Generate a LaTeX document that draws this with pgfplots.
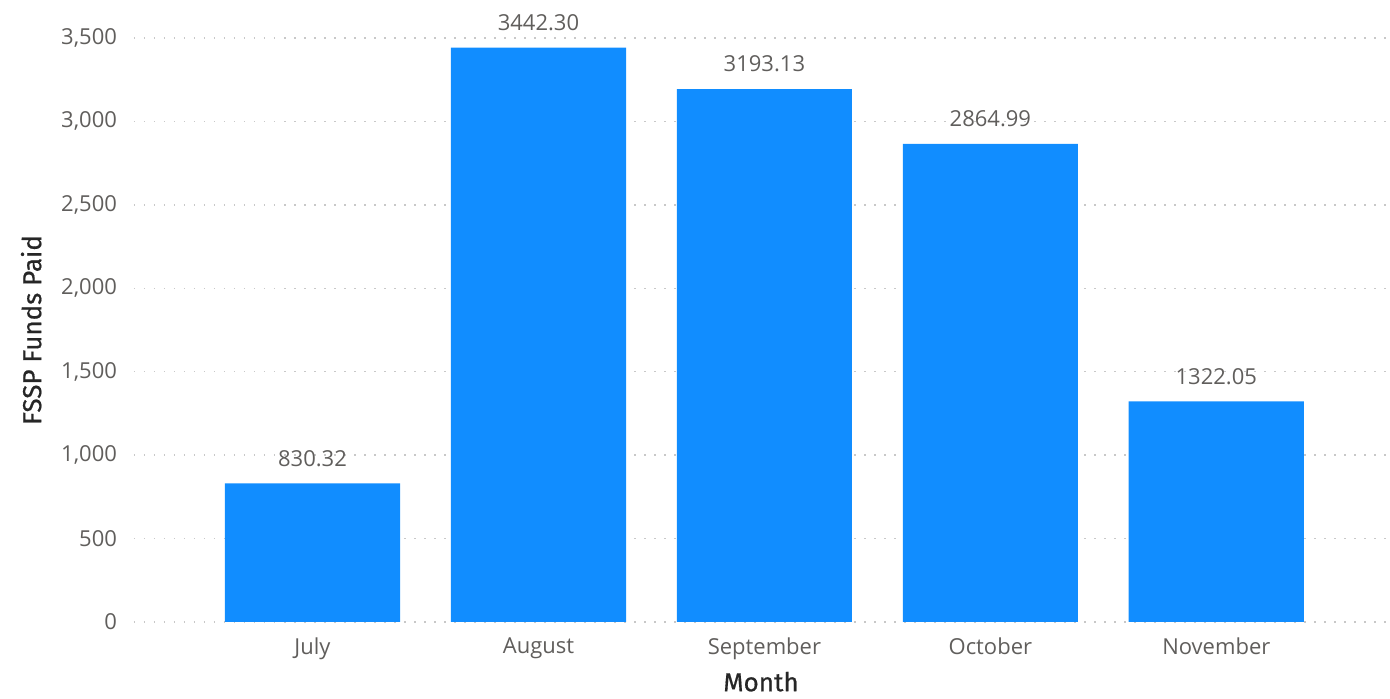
\documentclass[border=0pt]{standalone}
\usepackage{pgfplots}
\pgfplotsset{compat=1.18}
\usepackage{fontspec}
\setmainfont{Open Sans}
\newfontfamily\titlefont[FakeBold=0.6]{Fira Sans}
\definecolor{barblue}{HTML}{118DFF}
\definecolor{txtgray}{HTML}{605E5C}
\definecolor{gridgray}{HTML}{C8C8C8}
\begin{document}
\begin{tikzpicture}
\begin{axis}[
  scale only axis, width=627pt, height=292pt,
  xmin=-0.79, xmax=4.76, ymin=0, ymax=3500,
  axis line style={draw=none}, major tick length=0pt,
  xtick={0,1,2,3,4},
  xticklabels={July,August,September,October,November},
  ytick={0,500,1000,1500,2000,2500,3000,3500},
  /pgf/number format/assume math mode=true,
  /pgf/number format/.cd, 1000 sep={,}, /pgfplots/.cd,
  tick label style={font=\fontsize{11}{13}\selectfont, text=txtgray},
  yticklabel style={xshift=-5pt},
  xticklabel style={yshift=-4.5pt},
  ymajorgrids,
  grid style={gridgray, line width=0.75pt, dash pattern=on 0.75pt off 4.25pt},
  xlabel={\titlefont Month}, ylabel={\titlefont FSSP Funds Paid},
  label style={font=\fontsize{13}{15}\selectfont, text=black!85},
  xlabel style={yshift=1pt},
  ylabel style={yshift=3pt},
  clip=false,
]
\addplot[ybar, bar width=0.775, fill=barblue, draw=none,
  nodes near coords,
  nodes near coords style={font=\fontsize{11}{13}\selectfont, text=txtgray,
    /pgf/number format/fixed, /pgf/number format/fixed zerofill,
    /pgf/number format/precision=2, /pgf/number format/1000 sep={},
    /pgf/number format/assume math mode=true, yshift=5pt}]
  coordinates {(0,830.32) (1,3442.30) (2,3193.13) (3,2864.99) (4,1322.05)};
\path (rel axis cs:0,0) ++(-67pt,-37pt) coordinate (bl);
\path (rel axis cs:1,1) ++(1pt,19pt) coordinate (tr);
\useasboundingbox (bl) rectangle (tr);
\end{axis}
\end{tikzpicture}
\end{document}
